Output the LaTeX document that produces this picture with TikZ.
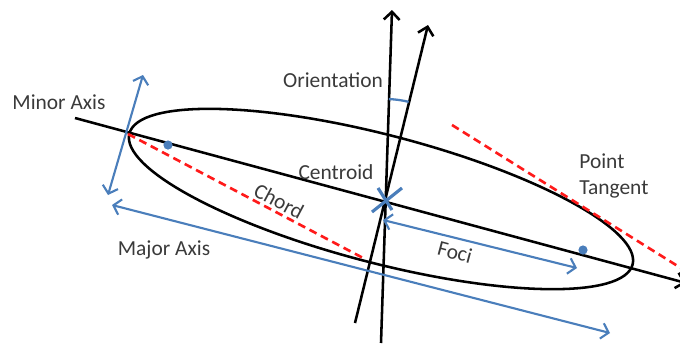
\documentclass[tikz,border=0pt]{standalone}
\usepackage{fontspec}
\setmainfont{Carlito}
\usepackage{xcolor}
\usepackage{tikz}
\usetikzlibrary{arrows.meta,positioning,calc}
\definecolor{blue}{HTML}{4A7EBB}
\definecolor{red}{HTML}{FF1A1A}
\definecolor{ink}{HTML}{3A3A3A}

\begin{document}
\begin{tikzpicture}[x=0.02cm,y=0.02cm,font=\fontsize{12.2}{14.8}\selectfont,
  blk/.style={black,line width=1.45pt},
  barb/.style={-{Straight Barb[length=4.5pt,width=9pt]}},
  bluearr/.style={blue,line width=1.2pt,{Straight Barb[length=4pt,width=9pt]}-{Straight Barb[length=4pt,width=9pt]}},
  reddash/.style={red,line width=1.5pt,dash pattern=on 4.5pt off 2.8pt},
  lbl/.style={text=ink,inner sep=0pt}]
  \useasboundingbox (0,0) rectangle (680,343);
  % ellipse, centre and foci
  \coordinate (E) at (381,144);
  \coordinate (C) at (385,144);
  \coordinate (vl) at (128,209);
  \coordinate (fl) at (168,198);
  \coordinate (fr) at (583,93);
  \draw[blk,rotate around={-14.6:(E)}] (E) ellipse [x radius=260, y radius=64];
  % major axis line and the two upward lines
  \coordinate (ma0) at (75,225);
  \coordinate (ma1) at (686,60);
  \draw[blk,barb] (ma0) -- (ma1);
  \coordinate (v0) at (381,0);
  \coordinate (v1) at (392,333);
  \draw[blk,barb] (v0) -- (v1);
  \coordinate (t0) at (355,20);
  \coordinate (t1) at (428,318);
  \draw[blk,barb] (t0) -- (t1);
  \draw[blue,line width=1.3pt] ($(C)+(87.8:100)$) arc[start angle=87.8,end angle=76.3,radius=100];
  % centroid cross
  \draw[blue,line width=1.8pt] (378,155) -- (392,133) (402,155) -- (372,131);
  % foci
  \foreach \f in {fl,fr}
    \fill[blue] (\f) circle (4.6);
  % blue arrows
  \coordinate (mi0) at (108,148);
  \coordinate (mi1) at (143,268);
  \draw[bluearr] (mi0) -- (mi1);
  \coordinate (mj0) at (112,138);
  \coordinate (mj1) at (610,10);
  \draw[bluearr] (mj0) -- (mj1);
  \coordinate (fo0) at (383,123);
  \coordinate (fo1) at (577,75);
  \draw[bluearr] (fo0) -- (fo1);
  % chord and tangent
  \coordinate (ch1) at (365,84);
  \draw[reddash] (vl) -- (ch1);
  \coordinate (tg0) at (452,218);
  \coordinate (tg1) at (684,73);
  \draw[reddash] (tg0) -- (tg1);
  % labels
  \node[lbl] (minor) at (59,241) {Minor Axis};
  \node[lbl] (orient) at (333,263) {Orientation};
  \node[lbl] (centroid) at (336,171) {Centroid};
  \node[lbl,rotate=-28] (chord) at (279,142) {Chord};
  \node[lbl,rotate=-15] (foci) at (455,91) {Foci};
  \node[lbl] (major) at (164,93) {Major Axis};
  \node[lbl,align=left,anchor=west] (tangent) at (579,167) {Point\\Tangent};
\end{tikzpicture}
\end{document}
